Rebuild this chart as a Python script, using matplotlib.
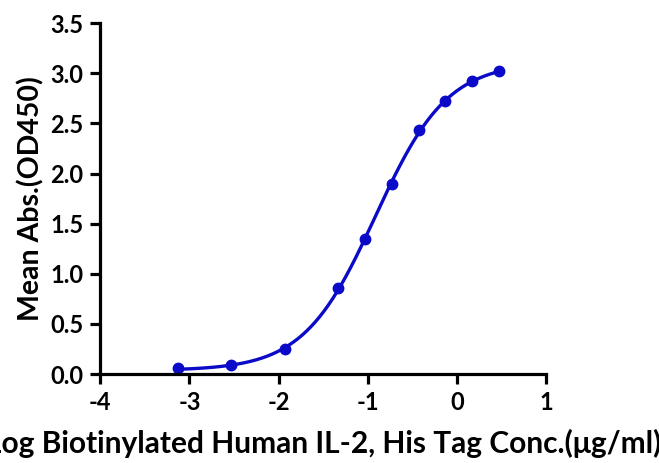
import numpy as np
import matplotlib.pyplot as plt

# data
log_conc = [-3.13, -2.53, -1.93, -1.33, -1.03, -0.73, -0.43, -0.13, 0.17, 0.47]
od450 = [0.056, 0.09, 0.25, 0.86, 1.35, 1.90, 2.43, 2.72, 2.92, 3.02]
x_ticks = [-4, -3, -2, -1, 0, 1]
y_ticks = [0.0, 0.5, 1.0, 1.5, 2.0, 2.5, 3.0, 3.5]

x = np.array(log_conc)
y = np.array(od450)


# 4PL fit: grid over logEC50 and hill, linear least squares for bottom/top
def sig(xx, c, h):
    return 1.0 / (1.0 + 10 ** ((c - xx) * h))


best = None
for c in np.linspace(-1.6, -0.4, 241):
    for h in np.linspace(0.5, 2.5, 201):
        s = sig(x, c, h)
        A = np.column_stack([np.ones_like(s), s])
        coef, res, _, _ = np.linalg.lstsq(A, y, rcond=None)
        err = np.sum((A @ coef - y) ** 2)
        if best is None or err < best[0]:
            best = (err, c, h, coef)

_, c, h, coef = best
xf = np.linspace(x.min(), x.max(), 300)
yf = coef[0] + coef[1] * sig(xf, c, h)

plt.rcParams['font.family'] = ['Lato', 'DejaVu Sans']
plt.rcParams['font.weight'] = 'bold'

fig = plt.figure(figsize=(6.59, 4.63), dpi=100)
ax = fig.add_axes([0.152, 0.192, 0.677, 0.758])

blue = '#0a0ac8'
ax.plot(xf, yf, color=blue, lw=2.4, clip_on=False)
ax.plot(x, y, 'o', color=blue, ms=7.5, clip_on=False)

ax.set_xlim(-4, 1)
ax.set_ylim(0, 3.5)
ax.set_xticks(x_ticks)
ax.set_yticks(y_ticks)
ax.set_xticklabels([str(t) for t in x_ticks])
ax.set_yticklabels([f'{t:.1f}' for t in y_ticks])

for side in ['top', 'right']:
    ax.spines[side].set_visible(False)
for side in ['left', 'bottom']:
    ax.spines[side].set_linewidth(2.3)
ax.tick_params(width=2.3, length=7, labelsize=17, pad=5)
for lab in ax.get_xticklabels() + ax.get_yticklabels():
    lab.set_fontweight('bold')

ax.set_ylabel('Mean Abs.(OD450)', fontsize=20.5, fontweight='bold', labelpad=4)
ax.set_xlabel('Log Biotinylated Human IL-2, His Tag Conc.(μg/ml)', fontsize=21.5,
              fontweight='bold', labelpad=11)

fig.savefig('out.png', dpi=100)
